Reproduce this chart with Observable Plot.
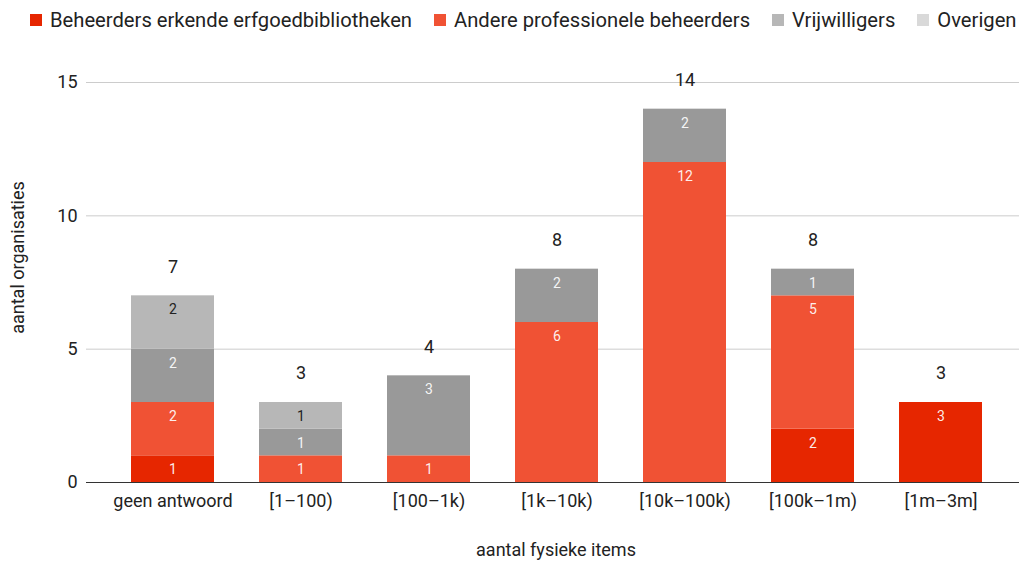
<!DOCTYPE html>
<html>
<head>
<meta charset="utf-8">
<script src="https://cdn.jsdelivr.net/npm/d3@7"></script>
<script src="https://cdn.jsdelivr.net/npm/@observablehq/plot@0.6"></script>
<style>
  html, body { margin: 0; padding: 0; background: #fff; font-family: Roboto, sans-serif; }
  #legend { height: 40px; display: flex; align-items: center; font-size: 20.2px; color: #222; padding-left: 30px; box-sizing: border-box; }
  .item { display: flex; align-items: center; margin-right: 22px; white-space: nowrap; }
  .sw { width: 12px; height: 12px; margin-right: 8px; }
  svg { display: block; }
</style>
</head>
<body>
<div id="legend"></div>
<div id="chart"></div>
<script>
const categories = ["geen antwoord", "[1–100)", "[100–1k)", "[1k–10k)", "[10k–100k)", "[100k–1m)", "[1m–3m]"];
const seriesNames = ["Beheerders erkende erfgoedbibliotheken", "Andere professionele beheerders", "Vrijwilligers", "Overigen"];
const beheerdersErkende = [1, 0, 0, 0, 0, 2, 3];
const andereProfessionele = [2, 1, 1, 6, 12, 5, 0];
const vrijwilligers = [2, 1, 3, 2, 2, 1, 0];
const overigen = [2, 1, 0, 0, 0, 0, 0];
const yTicks = [0, 5, 10, 15];

const barColors = ["#e62600", "#f05234", "#999999", "#b7b7b7"];
const legendColors = ["#e62600", "#f05234", "#b7b7b7", "#d9d9d9"];

const seriesValues = [beheerdersErkende, andereProfessionele, vrijwilligers, overigen];
const data = [];
seriesNames.forEach((s, si) => {
  categories.forEach((c, ci) => {
    const top = d3.sum(seriesValues.slice(0, si + 1), v => v[ci]);
    data.push({category: c, series: s, value: seriesValues[si][ci], top});
  });
});
const totals = categories.map((c, ci) => ({category: c, total: d3.sum(seriesValues, v => v[ci])}));

// legend
const legend = document.getElementById("legend");
seriesNames.forEach((s, i) => {
  const it = document.createElement("div");
  it.className = "item";
  const sw = document.createElement("div");
  sw.className = "sw";
  sw.style.background = legendColors[i];
  const t = document.createElement("span");
  t.textContent = s;
  it.appendChild(sw); it.appendChild(t);
  legend.appendChild(it);
});

const nonzero = d => d.value > 0;
const chart = Plot.plot({
  width: 1019,
  height: 521,
  marginLeft: 86,
  marginRight: 0,
  marginTop: 42,
  marginBottom: 79,
  style: {fontFamily: "Roboto, sans-serif", background: "#fff"},
  x: {domain: categories, paddingInner: 0.35, paddingOuter: 0.35, insetRight: -8, label: null},
  y: {domain: [0, 15], label: null},
  color: {domain: seriesNames, range: barColors},
  marks: [
    Plot.gridY(yTicks, {stroke: "#cccccc", strokeOpacity: 1}),
    Plot.barY(data, {x: "category", y: "value", fill: "series", filter: nonzero}),
    Plot.ruleY([0], {stroke: "#333", strokeWidth: 1}),
    Plot.text(data, {x: "category", y: "top", text: d => String(d.value),
      filter: d => d.value > 0 && d.series !== "Overigen", fill: "#ffffff", fillOpacity: 0.92, fontSize: 14, dy: 14}),
    Plot.text(data, {x: "category", y: "top", text: d => String(d.value),
      filter: d => d.value > 0 && d.series === "Overigen", fill: "#222", fontSize: 14, dy: 14}),
    Plot.text(totals, {x: "category", y: "total", text: d => String(d.total), dy: -29, fontSize: 18, fill: "#222"}),
    Plot.axisX({tickSize: 0, tickPadding: 12, fontSize: 18, label: null, color: "#222"}),
    Plot.axisY(yTicks, {tickSize: 0, tickPadding: 9, fontSize: 18, label: null, color: "#222"}),
    Plot.text(["aantal fysieke items"], {frameAnchor: "bottom", lineAnchor: "middle", textAnchor: "middle", dy: 68, dx: 3, text: d => d, fontSize: 18, fill: "#222"}),
    Plot.text(["aantal organisaties"], {frameAnchor: "left", lineAnchor: "middle", textAnchor: "middle", dx: -68, dy: -25, rotate: -90, text: d => d, fontSize: 18, fill: "#222"})
  ]
});
document.getElementById("chart").appendChild(chart);
</script>
</body>
</html>
